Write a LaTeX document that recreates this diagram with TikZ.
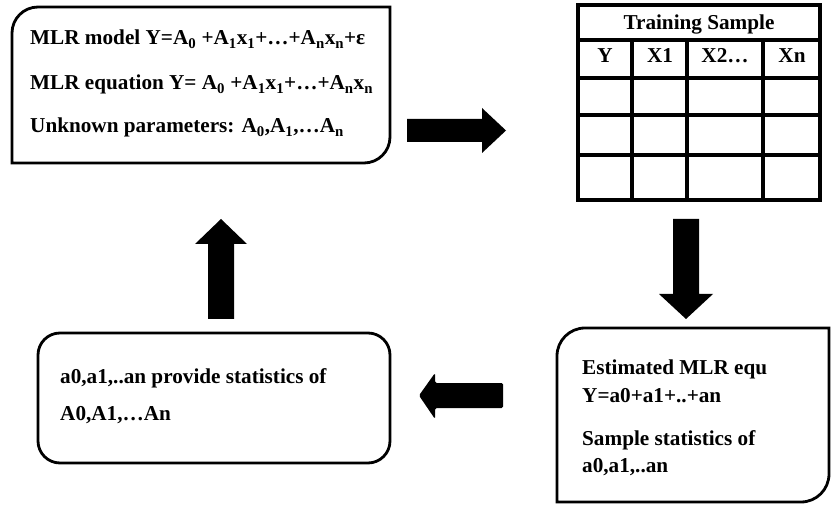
\documentclass[tikz,border=0pt]{standalone}
\usepackage{fontspec}
\setmainfont{Liberation Serif}
\usepackage{tikz}

\begin{document}
\begin{tikzpicture}[x=1pt,y=1pt,
    boxline/.style={line width=2.8pt},
    gridline/.style={line width=3.6pt},
    lbl/.style={anchor=base west,inner sep=0pt,font=\fontsize{21.2}{25}\selectfont\bfseries},
    hdr/.style={anchor=base,inner sep=0pt,font=\fontsize{21.2}{25}\selectfont\bfseries}]
            \useasboundingbox (0,0) rectangle (831,507);
            % model box
            \draw [boxline] (12,344) -- (12,474) arc[start angle=180,end angle=90,radius=26] -- (390,500) -- (390,370) arc[start angle=0,end angle=-90,radius=26] -- cycle;
            \node [lbl] (model) at (30,462) {MLR model Y=A\textsubscript{0} +A\textsubscript{1}x\textsubscript{1}+…+A\textsubscript{n}x\textsubscript{n}+ε};
            \node [lbl] (equation) at (30,417) {MLR equation Y= A\textsubscript{0} +A\textsubscript{1}x\textsubscript{1}+…+A\textsubscript{n}x\textsubscript{n}};
            \node [lbl] (unknown) at (30,374) {Unknown parameters: A\textsubscript{0},A\textsubscript{1},…A\textsubscript{n}};
            % training sample table
            \draw [gridline] (578,307) rectangle (820,502);
            \foreach \y in {467,429,392,352}
                \draw [gridline] (578,\y) -- (820,\y);
            \foreach \x in {632,687,763}
                \draw [gridline] (\x,467) -- (\x,307);
            \node [hdr] (title) at (699,477) {Training Sample};
            \node [hdr] (colY) at (605,444) {Y};
            \node [hdr] (colA) at (660,444) {X1};
            \node [hdr] (colB) at (725,444) {X2…};
            \node [hdr] (colN) at (792,444) {Xn};
            % estimate box
            \draw [boxline] (557,5) -- (557,151) arc[start angle=180,end angle=90,radius=28] -- (829,179) -- (829,33) arc[start angle=0,end angle=-90,radius=28] -- cycle;
            \node [lbl] (estimated) at (582,132) {Estimated MLR equ};
            \node [lbl] (estline) at (582,105) {Y=a0+a1+..+an};
            \node [lbl] (sample) at (582,62) {Sample statistics of};
            \node [lbl] (sampleline) at (582,35) {a0,a1,..an};
            % statistics box
            \draw [boxline,rounded corners=22pt] (38,44) rectangle (390,174);
            \node [lbl] (provide) at (60,124) {a0,a1,..an provide statistics of};
            \node [lbl] (provideline) at (60,87) {A0,A1,…An};
            % block arrows
            \fill (407,365) -- (482,365) -- (482,354) -- (506,376.5) -- (482,399) -- (482,388) -- (407,388) -- cycle;
            \fill (673,288) -- (699,288) -- (699,213) -- (713,213) -- (686,188) -- (659,213) -- (673,213) -- cycle;
            \fill [rounded corners=1.5pt] (503,124) -- (435,124) -- (435,134) -- (419,111.5) -- (435,88) -- (435,99) -- (503,99) -- cycle;
            \fill (208,188) -- (234,188) -- (234,263) -- (247,263) -- (221,288) -- (195,263) -- (208,263) -- cycle;
        \end{tikzpicture}
\end{document}
